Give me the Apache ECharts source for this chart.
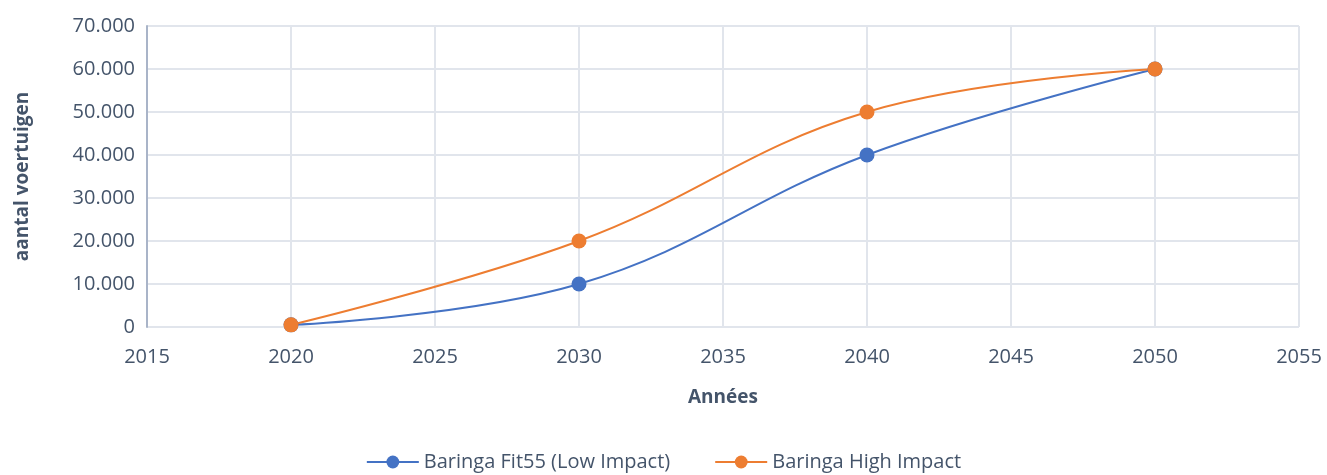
<!DOCTYPE html>
<html><head><meta charset="utf-8">
<script src="https://cdn.jsdelivr.net/npm/echarts@6/dist/echarts.min.js"></script>
<style>html,body{margin:0;padding:0;background:#fff}#c{width:1327px;height:475px}</style>
</head><body><div id="c"></div>
<script>
var years = [2020, 2030, 2040, 2050];
var lowImpact = [500, 10000, 40000, 60000];
var highImpact = [500, 20000, 50000, 60000];
var seriesNames = ['Baringa Fit55 (Low Impact)', 'Baringa High Impact'];
var xAxisName = 'Années';
var yAxisName = 'aantal voertuigen';

function fmt(v){ return String(v).replace(/\B(?=(\d{3})+(?!\d))/g, '.'); }
function pairs(xs, ys){ return xs.map(function(x,i){ return [x, ys[i]]; }); }

var font = 'Open Sans';
var txt = '#44546A';
var chart = echarts.init(document.getElementById('c'));
chart.setOption({
  animation: false,
  grid: {left: 147, right: 28, top: 26, bottom: 148, containLabel: false, outerBoundsMode: 'none'},
  legend: {
    top: 447, left: 'center', itemWidth: 52, itemHeight: 16, itemGap: 44,
    textStyle: {fontFamily: font, fontSize: 20, color: txt},
    data: seriesNames
  },
  xAxis: {
    type: 'value', min: 2015, max: 2055, interval: 5,
    name: xAxisName, nameLocation: 'middle', nameGap: 61,
    nameTextStyle: {fontFamily: font, fontSize: 19, fontWeight: 'bold', color: txt},
    axisLine: {show: false}, axisTick: {show: false},
    axisLabel: {fontFamily: font, fontSize: 20, color: txt, margin: 20, formatter: function(v){ return String(v); }},
    splitLine: {show: true, lineStyle: {color: '#E1E5EC', width: 2}}
  },
  yAxis: {
    type: 'value', min: 0, max: 70000, interval: 10000,
    name: yAxisName, nameLocation: 'middle', nameGap: 115, nameRotate: 90,
    nameTextStyle: {fontFamily: font, fontSize: 19, fontWeight: 'bold', color: txt},
    axisLine: {show: true, lineStyle: {color: '#A9B4C8', width: 2}}, axisTick: {show: false},
    axisLabel: {fontFamily: font, fontSize: 20, color: txt, margin: 12, formatter: fmt},
    splitLine: {show: true, lineStyle: {color: '#E1E5EC', width: 2}}
  },
  series: [
    {name: seriesNames[0], type: 'line', data: pairs(years, lowImpact), smooth: 0.4,
     symbol: 'circle', symbolSize: 15, color: '#4472C4', lineStyle: {width: 2}},
    {name: seriesNames[1], type: 'line', data: pairs(years, highImpact), smooth: 0.4,
     symbol: 'circle', symbolSize: 15, color: '#ED7D31', lineStyle: {width: 2}}
  ]
});
</script></body></html>
